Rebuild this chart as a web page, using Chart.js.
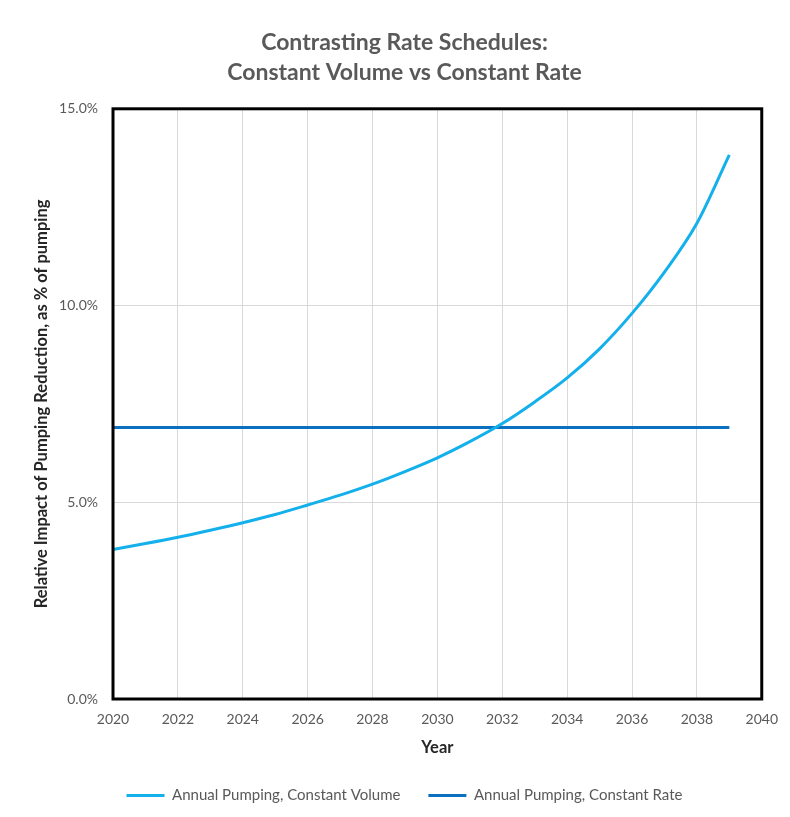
<!DOCTYPE html>
<html>
<head>
<meta charset="utf-8">
<script src="https://cdn.jsdelivr.net/npm/chart.js@4"></script>
<style>
  html, body { margin: 0; padding: 0; background: #ffffff; }
  #wrap { width: 790px; height: 817px; }
</style>
</head>
<body>
<div id="wrap"><canvas id="c" width="790" height="817"></canvas></div>
<script>
// Years plotted (annual values)
const years = [2020, 2021, 2022, 2023, 2024, 2025, 2026, 2027, 2028, 2029,
               2030, 2031, 2032, 2033, 2034, 2035, 2036, 2037, 2038, 2039];

// Relative impact of pumping reduction, % of pumping
const constantVolume = [3.80, 3.95, 4.11, 4.29, 4.48, 4.69, 4.93, 5.18, 5.46, 5.78,
                        6.13, 6.54, 7.00, 7.55, 8.16, 8.90, 9.80, 10.85, 12.09, 13.83];
const constantRate   = [6.9, 6.9, 6.9, 6.9, 6.9, 6.9, 6.9, 6.9, 6.9, 6.9,
                        6.9, 6.9, 6.9, 6.9, 6.9, 6.9, 6.9, 6.9, 6.9, 6.9];

// Axis ticks
const xTicks = [2020, 2022, 2024, 2026, 2028, 2030, 2032, 2034, 2036, 2038, 2040];
const yTicks = [0, 5, 10, 15];

const seriesNames = ['Annual Pumping, Constant Volume', 'Annual Pumping, Constant Rate'];
const titleLines = ['Contrasting Rate Schedules:', 'Constant Volume vs Constant Rate'];

const FONT = 'Lato, "Open Sans", sans-serif';
const GREY = '#595959';

const toPoints = (vals) => years.map((y, i) => ({ x: y, y: vals[i] }));

// Heavy black frame around the plotting area
const plotFrame = {
  id: 'plotFrame',
  afterDraw(chart) {
    const { ctx, chartArea: a } = chart;
    ctx.save();
    ctx.strokeStyle = '#000000';
    ctx.lineWidth = 3;
    ctx.strokeRect(a.left, a.top, a.right - a.left, a.bottom - a.top);
    ctx.restore();
  }
};

new Chart(document.getElementById('c'), {
  type: 'line',
  data: {
    datasets: [
      {
        label: seriesNames[0],
        data: toPoints(constantVolume),
        borderColor: '#14b0ec',
        backgroundColor: '#14b0ec',
        borderWidth: 3,
        pointRadius: 0,
        cubicInterpolationMode: 'monotone',
        fill: false
      },
      {
        label: seriesNames[1],
        data: toPoints(constantRate),
        borderColor: '#0b70c0',
        backgroundColor: '#0b70c0',
        borderWidth: 3,
        pointRadius: 0,
        fill: false
      }
    ]
  },
  options: {
    responsive: false,
    animation: false,
    devicePixelRatio: 1,
    layout: { padding: { left: 46, right: 27, top: 0, bottom: 4 } },
    plugins: {
      tooltip: { enabled: false },
      title: {
        display: true,
        text: titleLines,
        color: GREY,
        font: { family: FONT, size: 23, weight: 'bold', lineHeight: 1.3 },
        padding: { top: 28, bottom: 21 }
      },
      legend: {
        position: 'bottom',
        labels: {
          color: GREY,
          font: { family: FONT, size: 15 },
          boxWidth: 38,
          boxHeight: 3,
          padding: 28,
          generateLabels(chart) {
            return Chart.defaults.plugins.legend.labels.generateLabels(chart).map(it => {
              it.lineWidth = 0;
              it.fillStyle = it.strokeStyle;
              return it;
            });
          }
        }
      }
    },
    scales: {
      x: {
        type: 'linear',
        min: 2020,
        max: 2040,
        afterBuildTicks(scale) { scale.ticks = xTicks.map(v => ({ value: v })); },
        afterFit(scale) { scale.height = 61; },
        ticks: {
          color: GREY,
          font: { family: FONT, size: 14 },
          padding: 12,
          maxRotation: 0,
          callback: (v) => String(v)
        },
        grid: { color: '#d9d9d9', lineWidth: 1, drawTicks: false },
        border: { display: false },
        title: {
          display: true,
          text: 'Year',
          color: '#262626',
          font: { family: FONT, size: 16.5, weight: 'bold' },
          padding: { top: 0, bottom: 2 }
        }
      },
      y: {
        min: 0,
        max: 15,
        afterBuildTicks(scale) { scale.ticks = yTicks.map(v => ({ value: v })); },
        afterFit(scale) { scale.width = 67; },
        ticks: {
          color: GREY,
          font: { family: FONT, size: 14 },
          padding: 15,
          callback: (v) => v.toFixed(1) + '%'
        },
        grid: { color: '#d9d9d9', lineWidth: 1, drawTicks: false },
        border: { display: false },
        title: {
          display: true,
          text: 'Relative Impact of Pumping Reduction, as % of pumping',
          color: '#262626',
          font: { family: FONT, size: 16.5, weight: 'bold' },
          padding: { top: -14, bottom: 0 }
        }
      }
    }
  },
  plugins: [plotFrame]
});
</script>
</body>
</html>
